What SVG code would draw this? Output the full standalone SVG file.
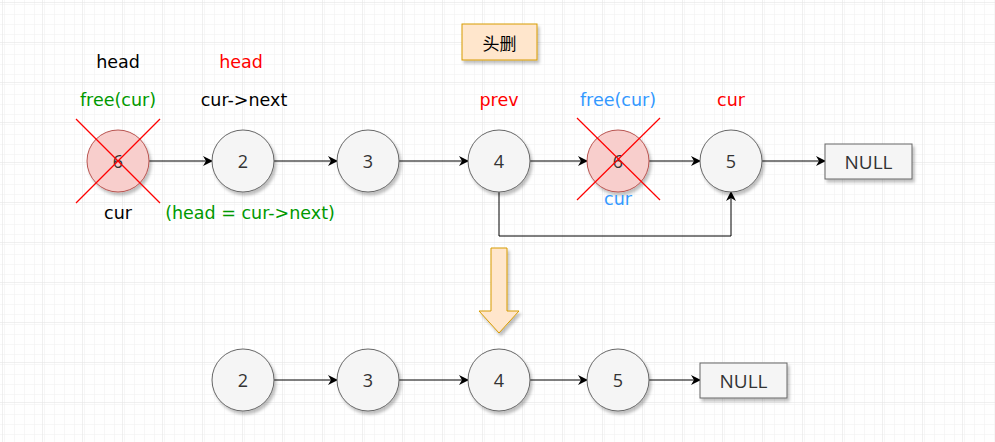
<svg xmlns="http://www.w3.org/2000/svg" width="995" height="442" viewBox="0 0 995 442">
<defs>
<pattern id="minor" width="10" height="10" patternUnits="userSpaceOnUse" x="2" y="2">
<path d="M10 0H0V10" fill="none" stroke="#f0f0f0" stroke-width="1"/>
</pattern>
<pattern id="major" width="40" height="40" patternUnits="userSpaceOnUse" x="2" y="2">
<rect width="40" height="40" fill="url(#minor)"/>
<path d="M40 0H0V40" fill="none" stroke="#e2e2e2" stroke-width="1"/>
</pattern>
<filter id="sh" x="-20%" y="-20%" width="150%" height="150%">
<feDropShadow dx="2" dy="3" stdDeviation="1.5" flood-color="#000" flood-opacity="0.25"/>
</filter>
<marker id="ah" viewBox="0 0 10 10" refX="9" refY="5" markerWidth="10" markerHeight="10" markerUnits="userSpaceOnUse" orient="auto">
<path d="M0 0L10 5L0 10L3 5Z" fill="#000"/>
</marker>
<style>
.n{fill:#f5f5f5;stroke:#666;stroke-width:1;filter:url(#sh)}
.d{fill:#f8cecc;stroke:#b85450;stroke-width:1;filter:url(#sh)}
.box{fill:#f5f5f5;stroke:#666;stroke-width:1;filter:url(#sh)}
.num{font-family:"Open Sans","Liberation Sans",sans-serif;font-size:18px;fill:#333;text-anchor:middle;dominant-baseline:central}
.nl{font-size:19px}
.lbl{font-family:"DejaVu Sans",sans-serif;font-size:17.5px;text-anchor:middle;dominant-baseline:central}
.c{stroke:#000;stroke-width:1;fill:none;marker-end:url(#ah)}
.x{stroke:#ff0000;stroke-width:1.2}
</style>
</defs>
<rect width="995" height="442" fill="#fff"/>
<rect width="995" height="442" fill="url(#major)"/>

<g id="title">
<rect x="462" y="24" width="75" height="36" fill="#ffe6cc" stroke="#d79b00" filter="url(#sh)"/>
<text x="499.5" y="42" class="lbl" style="font-family:'Noto Sans CJK SC',sans-serif;font-size:17px" fill="#000">头删</text>
</g>

<g id="connectors">
<line class="c" x1="149" y1="161" x2="212" y2="161"/>
<line class="c" x1="274" y1="161" x2="337" y2="161"/>
<line class="c" x1="399" y1="161" x2="468" y2="161"/>
<line class="c" x1="530" y1="161" x2="587" y2="161"/>
<line class="c" x1="649" y1="161" x2="700" y2="161"/>
<line class="c" x1="762" y1="161" x2="825" y2="161"/>
<polyline class="c" points="499,192 499,236 731,236 731,192"/>
<line class="c" x1="274" y1="380" x2="337" y2="380"/>
<line class="c" x1="399" y1="380" x2="468" y2="380"/>
<line class="c" x1="530" y1="380" x2="587" y2="380"/>
<line class="c" x1="649" y1="380" x2="700" y2="380"/>
</g>

<g id="t6a">
<circle class="d" cx="118" cy="161" r="31"/>
<text class="num" x="118" y="161">6</text>
<line class="x" x1="76" y1="119" x2="160" y2="203"/>
<line class="x" x1="160" y1="119" x2="76" y2="203"/>
</g>
<g id="t2"><circle class="n" cx="243" cy="161" r="31"/><text class="num" x="243" y="161">2</text></g>
<g id="t3"><circle class="n" cx="368" cy="161" r="31"/><text class="num" x="368" y="161">3</text></g>
<g id="t4"><circle class="n" cx="499" cy="161" r="31"/><text class="num" x="499" y="161">4</text></g>
<g id="t6b">
<circle class="d" cx="618" cy="161" r="31"/>
<text class="num" x="618" y="161">6</text>
<line class="x" x1="577" y1="118" x2="660" y2="200"/>
<line class="x" x1="660" y1="118" x2="577" y2="200"/>
</g>
<g id="t5"><circle class="n" cx="731" cy="161" r="31"/><text class="num" x="731" y="161">5</text></g>
<g id="tnull"><rect class="box" x="825" y="144" width="87" height="35"/><text class="num nl" x="868.5" y="161.5">NULL</text></g>

<g id="labels">
<text class="lbl" x="118" y="62" fill="#000">head</text>
<text class="lbl" x="241" y="62" fill="#ff0000">head</text>
<text class="lbl" x="118" y="100" fill="#009900">free(cur)</text>
<text class="lbl" x="244" y="100" fill="#000">cur-&gt;next</text>
<text class="lbl" x="118" y="213" fill="#000">cur</text>
<text class="lbl" x="250" y="213" fill="#009900">(head = cur-&gt;next)</text>
<text class="lbl" x="499" y="100" fill="#ff0000">prev</text>
<text class="lbl" x="618" y="100" fill="#3399ff">free(cur)</text>
<text class="lbl" x="731" y="100" fill="#ff0000">cur</text>
<text class="lbl" x="618" y="199" fill="#3399ff">cur</text>
</g>

<g id="bigarrow">
<path d="M491 248H507V311H519L499 333L479 311H491Z" fill="#ffe6cc" stroke="#d79b00" filter="url(#sh)"/>
</g>

<g id="b2"><circle class="n" cx="243" cy="380" r="31"/><text class="num" x="243" y="380">2</text></g>
<g id="b3"><circle class="n" cx="368" cy="380" r="31"/><text class="num" x="368" y="380">3</text></g>
<g id="b4"><circle class="n" cx="499" cy="380" r="31"/><text class="num" x="499" y="380">4</text></g>
<g id="b5"><circle class="n" cx="618" cy="380" r="31"/><text class="num" x="618" y="380">5</text></g>
<g id="bnull"><rect class="box" x="700" y="363" width="87" height="35"/><text class="num nl" x="743.5" y="380.5">NULL</text></g>
</svg>
